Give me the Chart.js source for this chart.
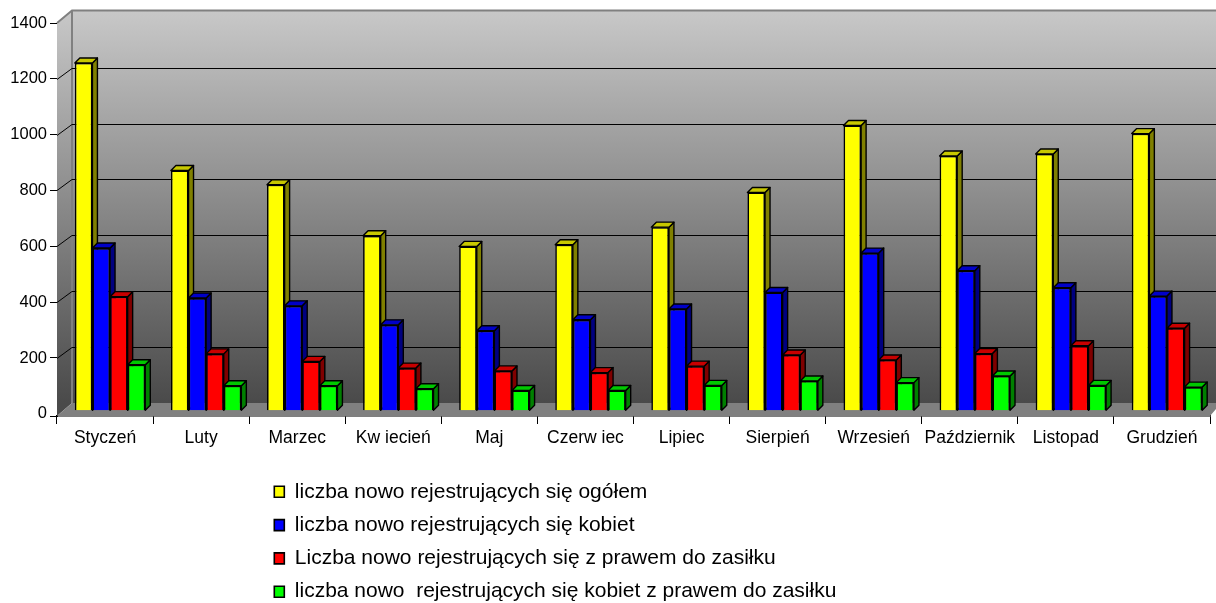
<!DOCTYPE html>
<html><head><meta charset="utf-8">
<style>html,body{margin:0;padding:0;background:#fff}canvas{display:block}</style>
<script src="https://cdn.jsdelivr.net/npm/chart.js@4/dist/chart.umd.min.js"></script>
</head><body><canvas id="c" width="1216" height="603"></canvas>
<script>
const months = ['Styczeń','Luty','Marzec','Kw iecień','Maj','Czerw iec','Lipiec','Sierpień','Wrzesień','Październik','Listopad','Grudzień'];
const seriesNames = ['liczba nowo rejestrujących się ogółem','liczba nowo rejestrujących się kobiet','Liczba nowo rejestrujących się z prawem do zasiłku','liczba nowo  rejestrujących się kobiet z prawem do zasiłku'];
const ogolem = [1246,861,810,627,589,595,658,782,1022,913,920,993];
const kobiet = [583,404,376,308,287,326,365,424,565,502,441,411];
const zZasilkiem = [409,204,177,153,143,137,160,200,182,205,233,296];
const kobietZasilek = [165,90,90,79,73,73,91,107,101,125,91,85];
const frontColors = ['#ffff00','#0000ff','#ff0000','#00ff00'];
const topColors = ['#c8c800','#0000c8','#c80000','#00c800'];
const sideColors = ['#808000','#000080','#800000','#008000'];
const yTicks = [0,200,400,600,800,1000,1200,1400];

const wallDX = 15, wallDY = 11, barDX = 5, barDY = 3, depth = 5;

const scene = {
  id:'scene',
  beforeDraw(chart){
    const l = chart.legend; l.left = 262; l.top = 469; l.right = chart.width; l.bottom = chart.height + 40;
  },
  beforeDatasetsDraw(chart){
    const c = chart.ctx, a = chart.chartArea, ys = chart.scales.y;
    const W = chart.width, backTop = a.top-12.5, backBottom = a.bottom-13;
    c.save();
    const g = c.createLinearGradient(0,backTop,0,backBottom);
    g.addColorStop(0,'#c8c8c8'); g.addColorStop(1,'#4a4a4a');
    c.fillStyle = g;
    c.beginPath(); c.moveTo(a.left,a.top); c.lineTo(a.left+wallDX,backTop); c.lineTo(a.left+wallDX,backBottom); c.lineTo(a.left,a.bottom); c.closePath(); c.fill();
    c.fillRect(a.left+wallDX,backTop,W-a.left-wallDX,backBottom-backTop);
    c.fillStyle='#808080';
    c.beginPath(); c.moveTo(a.left,a.bottom); c.lineTo(a.left+wallDX,backBottom); c.lineTo(W,backBottom); c.lineTo(W,a.bottom-7);c.lineTo(a.right,a.bottom); c.closePath(); c.fill();
    c.strokeStyle='#808080'; c.lineWidth=2;
    c.beginPath(); c.moveTo(a.left,a.top); c.lineTo(a.left+wallDX,backTop); c.lineTo(W,backTop); c.moveTo(a.left+wallDX,backTop); c.lineTo(a.left+wallDX,backBottom); c.stroke();
    c.strokeStyle='#000'; c.lineWidth=1;
    yTicks.forEach(v=>{
      if(v===0||v===1400) return;
      const y = Math.round(ys.getPixelForValue(v))+.5;
      c.beginPath(); c.moveTo(a.left,y); c.lineTo(a.left+wallDX,y-wallDY); c.lineTo(W,y-wallDY); c.stroke();
    });
    c.beginPath(); c.moveTo(a.left-7,a.bottom+.5); c.lineTo(a.left,a.bottom+.5); c.stroke();
    c.restore();
    c.save();
    c.translate(barDX,-barDY);
    const metas = chart.getSortedVisibleDatasetMetas();
    for(let i=0;i<months.length;i++){
      metas.forEach((m,d)=>{
        const p = m.data[i].getProps(['x','y','width','base']);
        const x0 = p.x-p.width/2, x1 = p.x+p.width/2;
        c.lineWidth=1.4; c.strokeStyle='#000'; c.lineJoin='round';
        c.fillStyle = sideColors[d];
        c.beginPath(); c.moveTo(x1,p.y); c.lineTo(x1+depth,p.y-depth); c.lineTo(x1+depth,p.base-depth); c.lineTo(x1,p.base); c.closePath(); c.fill(); c.stroke();
        c.fillStyle = topColors[d];
        c.beginPath(); c.moveTo(x0,p.y); c.lineTo(x0+depth,p.y-depth); c.lineTo(x1+depth,p.y-depth); c.lineTo(x1,p.y); c.closePath(); c.fill(); c.stroke();
      });
    }
  },
  afterDatasetsDraw(chart){ chart.ctx.restore(); }
};

const family = '"Liberation Sans", Arial, sans-serif';
new Chart(document.getElementById('c'),{
  type:'bar',
  data:{labels:months,datasets:[ogolem,kobiet,zZasilkiem,kobietZasilek].map((d,i)=>({
    label:seriesNames[i],data:d,backgroundColor:frontColors[i],borderColor:'#000',borderWidth:1.6,
    barPercentage:1,categoryPercentage:0.733
  }))},
  options:{
    responsive:false,animation:false,devicePixelRatio:1,
    layout:{padding:{top:23,right:6,left:0,bottom:0}},
    plugins:{
      title:{display:false},tooltip:{enabled:false},
      legend:{position:'left',align:'start',maxWidth:1,
        labels:{font:{family,size:21},color:'#000',boxWidth:10,boxHeight:11,padding:12.3}}
    },
    scales:{
      x:{grid:{drawOnChartArea:false,color:'#000',tickLength:8,tickColor:'#000'},border:{color:'#000',width:1.4},
        ticks:{font:{family,size:17.5},color:'#000',maxRotation:0,autoSkip:false,padding:4},
        afterFit(s){ s.height = 187; }},
      y:{min:-7.8,max:1400,grid:{drawOnChartArea:false,color:'#000',tickLength:7,tickColor:c=>c.tick&&c.tick.value===0?'transparent':'#000'},border:{color:'#000',width:1},
        afterBuildTicks(s){ s.ticks = yTicks.map(v=>({value:v})); },
        ticks:{font:{family,size:16.5},color:'#000',padding:3,callback:v=>String(v)},
        afterFit(s){ s.width=56; }}
    }
  },
  plugins:[scene]
});
</script></body></html>
